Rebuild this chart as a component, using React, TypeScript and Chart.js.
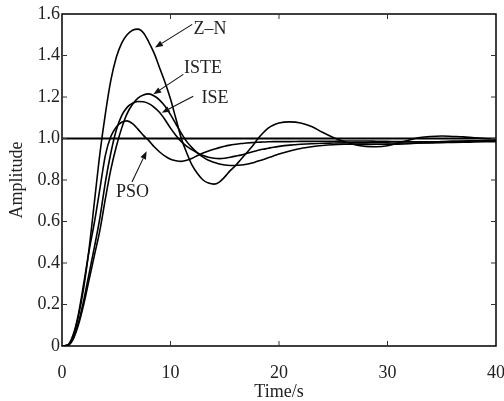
import React, { useEffect, useRef } from "react";
import { Chart, registerables } from "chart.js";

Chart.register(...registerables);

// ---- data ----
const timeS = [
  0, 0.5, 1, 1.5, 2, 2.5, 3, 3.5, 4, 4.5, 5, 5.5, 6, 6.5, 7, 7.5, 8, 8.5, 9, 9.5,
  10, 10.5, 11, 11.5, 12, 12.5, 13, 13.5, 14, 14.5, 15, 15.5, 16, 16.5, 17, 17.5, 18, 18.5, 19, 19.5,
  20, 21, 22, 23, 24, 25, 26, 27, 28, 29, 30, 31, 32, 33, 34, 35, 36, 37, 38, 39, 40,
];

const znValues = [
  0, 0.003, 0.04, 0.14, 0.28, 0.47, 0.7, 0.93, 1.12, 1.28, 1.39, 1.46, 1.5, 1.522, 1.527, 1.51, 1.465, 1.41, 1.34, 1.27,
  1.19, 1.095, 1.0, 0.93, 0.87, 0.83, 0.8, 0.785, 0.78, 0.79, 0.815, 0.845, 0.87, 0.9, 0.93, 0.96, 0.995, 1.025, 1.05, 1.065,
  1.075, 1.08, 1.075, 1.058, 1.03, 1.005, 0.985, 0.97, 0.962, 0.96, 0.965, 0.978, 0.993, 1.005, 1.01, 1.012, 1.01, 1.008, 1.003, 1.0, 0.998,
];

const psoValues = [
  0, 0.004, 0.05, 0.15, 0.3, 0.46, 0.6, 0.76, 0.92, 1.01, 1.055, 1.078, 1.085, 1.072, 1.045, 1.015, 0.99, 0.96, 0.935, 0.915,
  0.9, 0.893, 0.89, 0.895, 0.905, 0.918, 0.93, 0.94, 0.948, 0.956, 0.963, 0.968, 0.972, 0.976, 0.978, 0.98, 0.982, 0.983, 0.984, 0.985,
  0.985, 0.985, 0.986, 0.986, 0.987, 0.987, 0.988, 0.988, 0.988, 0.987, 0.986, 0.985, 0.985, 0.984, 0.984, 0.985, 0.986, 0.987, 0.988, 0.988, 0.989,
];

const iseValues = [
  0, 0.003, 0.035, 0.11, 0.22, 0.35, 0.48, 0.62, 0.79, 0.93, 1.04, 1.11, 1.15, 1.17, 1.178, 1.177, 1.168, 1.15, 1.125, 1.09,
  1.05, 1.015, 0.985, 0.962, 0.945, 0.93, 0.918, 0.91, 0.905, 0.903, 0.905, 0.91, 0.915, 0.92, 0.928, 0.935, 0.942, 0.948, 0.953, 0.958,
  0.962, 0.968, 0.972, 0.975, 0.977, 0.978, 0.979, 0.98, 0.98, 0.98, 0.979, 0.978, 0.978, 0.978, 0.979, 0.98, 0.981, 0.982, 0.983, 0.984, 0.985,
];

const isteValues = [
  0, 0.002, 0.03, 0.1, 0.2, 0.32, 0.44, 0.56, 0.71, 0.85, 0.96, 1.05, 1.12, 1.165, 1.195, 1.21, 1.215, 1.205, 1.185, 1.155,
  1.115, 1.07, 1.025, 0.985, 0.955, 0.93, 0.91, 0.895, 0.885, 0.877, 0.872, 0.87, 0.87, 0.872, 0.876, 0.882, 0.89, 0.898, 0.907, 0.916,
  0.925, 0.94, 0.952, 0.96, 0.966, 0.97, 0.972, 0.973, 0.973, 0.972, 0.972, 0.973, 0.975, 0.978, 0.981, 0.984, 0.986, 0.988, 0.989, 0.99, 0.99,
];

const referenceLevel = 1.0;

const xTickValues = [0, 10, 20, 30, 40];
const xTickLabels = ["0", "10", "20", "30", "40"];
const yTickValues = [0, 0.2, 0.4, 0.6, 0.8, 1.0, 1.2, 1.4, 1.6];
const yTickLabels = ["0", "0.2", "0.4", "0.6", "0.8", "1.0", "1.2", "1.4", "1.6"];

const xTitle = "Time/s";
const yTitle = "Amplitude";

// annotation labels (data coordinates): text centre and arrow from -> to
const labelTexts = ["Z\u2013N", "ISTE", "ISE", "PSO"];
const labelX = [13.64, 13.0, 14.1, 6.5];
const labelY = [1.527, 1.338, 1.193, 0.739];
const arrowFromX = [12.0, 11.18, 12.1, 6.45];
const arrowFromY = [1.55, 1.309, 1.204, 0.79];
const arrowToX = [8.57, 8.41, 9.19, 7.8];
const arrowToY = [1.438, 1.213, 1.124, 0.939];

const FONT = '"Liberation Serif", "Times New Roman", serif';

const boxPlugin = {
  id: "boxAndTicks",
  afterDraw(chart: any) {
    const { ctx, chartArea, scales } = chart;
    const { left, right, top, bottom } = chartArea;
    const xs = scales.x;
    const ys = scales.y;
    ctx.save();
    ctx.strokeStyle = "#000";
    ctx.lineWidth = 1.5;
    ctx.strokeRect(left, top, right - left, bottom - top);
    ctx.lineWidth = 1;
    ctx.strokeStyle = "#333";
    const tl = 5;
    ctx.beginPath();
    xTickValues.forEach((v) => {
      const px = xs.getPixelForValue(v);
      if (px <= left + 1 || px >= right - 1) return;
      ctx.moveTo(px, bottom);
      ctx.lineTo(px, bottom - tl);
      ctx.moveTo(px, top);
      ctx.lineTo(px, top + tl);
    });
    yTickValues.forEach((v) => {
      const py = ys.getPixelForValue(v);
      if (py <= top + 1 || py >= bottom - 1) return;
      ctx.moveTo(left, py);
      ctx.lineTo(left + tl, py);
      ctx.moveTo(right, py);
      ctx.lineTo(right - tl, py);
    });
    ctx.stroke();
    ctx.restore();
  },
};

const annotationPlugin = {
  id: "curveLabels",
  afterDatasetsDraw(chart: any) {
    const { ctx, scales } = chart;
    const xs = scales.x;
    const ys = scales.y;
    ctx.save();
    ctx.strokeStyle = "#111";
    ctx.fillStyle = "#111";
    ctx.lineWidth = 1.1;
    labelTexts.forEach((t, i) => {
      const x0 = xs.getPixelForValue(arrowFromX[i]);
      const y0 = ys.getPixelForValue(arrowFromY[i]);
      const x1 = xs.getPixelForValue(arrowToX[i]);
      const y1 = ys.getPixelForValue(arrowToY[i]);
      const ang = Math.atan2(y1 - y0, x1 - x0);
      const hl = 8;
      const hw = 3;
      const bx = x1 - hl * Math.cos(ang);
      const by = y1 - hl * Math.sin(ang);
      ctx.beginPath();
      ctx.moveTo(x0, y0);
      ctx.lineTo(bx, by);
      ctx.stroke();
      ctx.beginPath();
      ctx.moveTo(x1, y1);
      ctx.lineTo(bx + hw * Math.sin(ang), by - hw * Math.cos(ang));
      ctx.lineTo(bx - hw * Math.sin(ang), by + hw * Math.cos(ang));
      ctx.closePath();
      ctx.fill();
    });
    ctx.fillStyle = "#222";
    ctx.font = `18px ${FONT}`;
    ctx.textAlign = "center";
    ctx.textBaseline = "middle";
    labelTexts.forEach((t, i) => {
      ctx.fillText(t, xs.getPixelForValue(labelX[i]), ys.getPixelForValue(labelY[i]));
    });
    ctx.restore();
  },
};

function makeSeries(vals: number[]) {
  return timeS.map((t, i) => ({ x: t, y: vals[i] }));
}

export default function App() {
  const ref = useRef<HTMLCanvasElement | null>(null);

  useEffect(() => {
    if (!ref.current) return;
    const lineStyle = {
      borderColor: "#000",
      borderWidth: 1.6,
      pointRadius: 0,
      fill: false,
      cubicInterpolationMode: "monotone" as const,
    };
    const chart = new Chart(ref.current, {
      type: "line",
      data: {
        datasets: [
          { label: "Z-N", data: makeSeries(znValues), ...lineStyle },
          { label: "ISTE", data: makeSeries(isteValues), ...lineStyle },
          { label: "ISE", data: makeSeries(iseValues), ...lineStyle },
          { label: "PSO", data: makeSeries(psoValues), ...lineStyle },
          {
            label: "Reference",
            data: [
              { x: xTickValues[0], y: referenceLevel },
              { x: xTickValues[xTickValues.length - 1], y: referenceLevel },
            ],
            borderColor: "#000",
            borderWidth: 2,
            pointRadius: 0,
            fill: false,
          },
        ],
      },
      options: {
        animation: false,
        responsive: true,
        maintainAspectRatio: false,
        layout: { padding: { top: 14, right: 8, left: 0, bottom: 0 } },
        plugins: { legend: { display: false }, tooltip: { enabled: false } },
        scales: {
          x: {
            type: "linear",
            min: 0,
            max: 40,
            afterBuildTicks: (scale: any) => {
              scale.ticks = xTickValues.map((v) => ({ value: v }));
            },
            afterFit: (scale: any) => {
              scale.height = 55;
              scale.paddingLeft = 0;
              scale.paddingRight = 0;
            },
            grid: { display: false, drawTicks: false },
            border: { display: false },
            ticks: {
              color: "#222",
              font: { family: FONT, size: 18, lineHeight: 1 },
              padding: 18,
              maxRotation: 0,
              callback: (v: any) => {
                const i = xTickValues.indexOf(Number(v));
                return i >= 0 ? xTickLabels[i] : "";
              },
            },
            title: {
              display: true,
              text: xTitle,
              color: "#222",
              font: { family: FONT, size: 18, lineHeight: 1 },
              padding: { top: 0, bottom: 0 },
            },
          },
          y: {
            type: "linear",
            min: 0,
            max: 1.6,
            afterBuildTicks: (scale: any) => {
              scale.ticks = yTickValues.map((v) => ({ value: v }));
            },
            afterFit: (scale: any) => {
              scale.width = 62;
              scale.paddingTop = 0;
              scale.paddingBottom = 0;
            },
            grid: { display: false, drawTicks: false },
            border: { display: false },
            ticks: {
              color: "#222",
              font: { family: FONT, size: 18, lineHeight: 1 },
              padding: 2,
              callback: (v: any) => {
                const i = yTickValues.findIndex((t) => Math.abs(t - Number(v)) < 1e-6);
                return i >= 0 ? yTickLabels[i] : "";
              },
            },
            title: {
              display: true,
              text: yTitle,
              color: "#222",
              font: { family: FONT, size: 18, lineHeight: 1 },
              padding: { top: 8.5, bottom: 0 },
            },
          },
        },
      },
      plugins: [boxPlugin, annotationPlugin],
    });
    return () => chart.destroy();
  }, []);

  return (
    <div style={{ position: "fixed", left: 0, top: 0, width: 504, height: 401, background: "#fff" }}>
      <canvas ref={ref} />
    </div>
  );
}
